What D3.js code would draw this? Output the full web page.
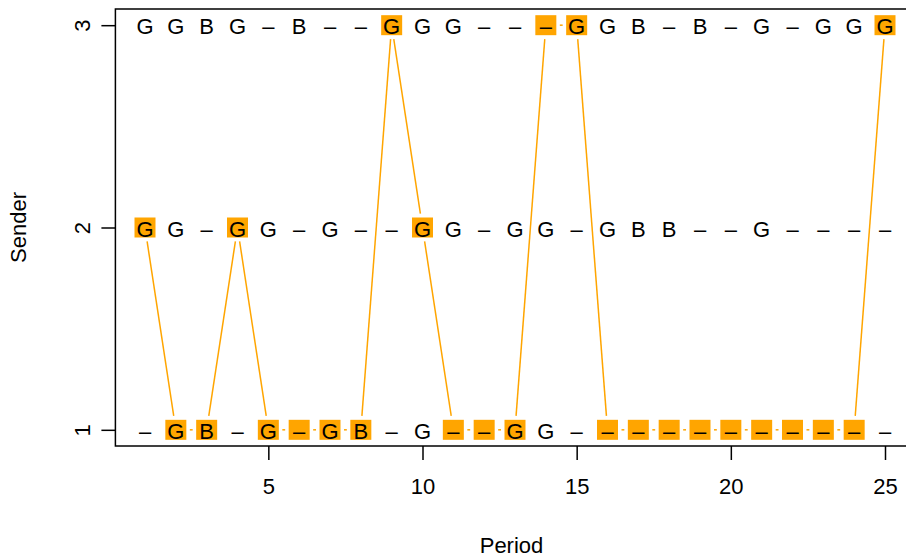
<!DOCTYPE html>
<html><head><meta charset="utf-8">
<script src="https://cdn.jsdelivr.net/npm/d3@7"></script>
<style>html,body{margin:0;padding:0;background:#fff;}svg{display:block;}</style>
</head><body>
<svg id="chart" width="906" height="558"></svg>
<script>
const periods = [1,2,3,4,5,6,7,8,9,10,11,12,13,14,15,16,17,18,19,20,21,22,23,24,25];
const senders = [1,2,3];
const sender1 = ["–","G","B","–","G","–","G","B","–","G","–","–","G","G","–","–","–","–","–","–","–","–","–","–","–"];
const sender2 = ["G","G","–","G","G","–","G","–","–","G","G","–","G","G","–","G","B","B","–","–","G","–","–","–","–"];
const sender3 = ["G","G","B","G","–","B","–","–","G","G","G","–","–","–","G","G","B","–","B","–","G","–","G","G","G"];
const chosen = [2,1,1,2,1,1,1,1,3,2,1,1,1,3,3,1,1,1,1,1,1,1,1,1,3];
const xTicks = [5,10,15,20,25];
const yTicks = [1,2,3];

(function () {
const svg = d3.select("#chart");
const pl = 115.4, pr = 914.6, pt = 9, pb = 446;
const x = d3.scaleLinear().domain([0.04, 25.96]).range([pl, pr]);
const y = d3.scaleLinear().domain([0.92, 3.08]).range([pb, pt]);
const font = "'Liberation Sans', Arial, Helvetica, sans-serif";
const fs = 22;
const orange = "#FFA500";

// connecting line with gaps (R type="b")
const gap = 14;
const segs = [];
for (let i = 0; i < periods.length - 1; i++) {
  const x1 = x(periods[i]), y1 = y(chosen[i]), x2 = x(periods[i+1]), y2 = y(chosen[i+1]);
  const dx = x2 - x1, dy = y2 - y1, L = Math.hypot(dx, dy);
  if (L > 2 * gap) {
    segs.push([x1 + dx / L * gap, y1 + dy / L * gap, x2 - dx / L * gap, y2 - dy / L * gap]);
  }
}
svg.append("g").selectAll("line").data(segs).join("line")
  .attr("x1", d => d[0]).attr("y1", d => d[1]).attr("x2", d => d[2]).attr("y2", d => d[3])
  .attr("stroke", orange).attr("stroke-width", 1.5);

// highlight boxes
svg.append("g").selectAll("rect").data(periods).join("rect")
  .attr("x", (d) => x(d) - 10.5).attr("y", (d, i) => y(chosen[i]) - 10)
  .attr("width", 21).attr("height", 20).attr("fill", orange);

// labels
const rows = [sender1, sender2, sender3];
senders.forEach((s, si) => {
  svg.append("g").selectAll("text").data(periods).join("text")
    .attr("x", d => x(d)).attr("y", y(s) + 9)
    .attr("text-anchor", "middle")
    .attr("font-family", font).attr("font-size", fs).attr("fill", "#000")
    .text((d, i) => rows[si][i]);
});

// frame
svg.append("rect").attr("x", pl).attr("y", pt).attr("width", pr - pl).attr("height", pb - pt)
  .attr("fill", "none").attr("stroke", "#000").attr("stroke-width", 1.5);

// x axis
const xa = svg.append("g").attr("transform", `translate(0,${pb})`)
  .call(d3.axisBottom(x).tickValues(xTicks).tickSize(14).tickPadding(18).tickFormat(d3.format("d")));
xa.select(".domain").remove();
xa.selectAll("line").attr("stroke", "#000").attr("stroke-width", 1.5);
xa.selectAll("text").attr("font-family", font).attr("font-size", fs).attr("fill", "#000");

// y axis
const ya = svg.append("g").attr("transform", `translate(${pl},0)`)
  .call(d3.axisLeft(y).tickValues(yTicks).tickSize(14).tickFormat(d3.format("d")));
ya.select(".domain").remove();
ya.selectAll("line").attr("stroke", "#000").attr("stroke-width", 1.5);
ya.selectAll("text").remove();
ya.selectAll(".tick").append("text")
  .attr("transform", "translate(-33,0) rotate(-90)")
  .attr("text-anchor", "middle").attr("dy", "0.35em")
  .attr("font-family", font).attr("font-size", fs).attr("fill", "#000")
  .text(d => d);

// axis titles
svg.append("text").attr("x", (pl + pr) / 2 - 3.5).attr("y", 553)
  .attr("text-anchor", "middle").attr("font-family", font).attr("font-size", fs).attr("fill", "#000")
  .text("Period");
svg.append("text").attr("transform", `translate(26,${(pt + pb) / 2}) rotate(-90)`)
  .attr("text-anchor", "middle").attr("font-family", font).attr("font-size", fs).attr("fill", "#000")
  .text("Sender");
})();
</script>
</body></html>
